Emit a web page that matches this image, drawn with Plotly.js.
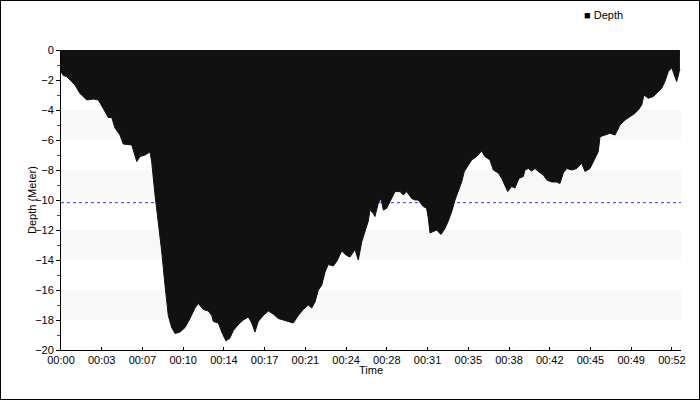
<!DOCTYPE html>
<html>
<head>
<meta charset="utf-8">
<script src="https://cdn.plot.ly/plotly-3.0.1.min.js"></script>
<style>
  html, body { margin: 0; padding: 0; background: #fff; }
  #chart { width: 700px; height: 400px; box-sizing: border-box; border: 1px solid #000; }
</style>
</head>
<body>
<div id="chart"></div>
<script>
// Time since start of dive (minutes)
const timeMin = [
  0, 0.2, 0.49, 1.20, 1.63, 2.21, 2.78, 3.21, 3.63, 4.06, 4.36, 4.64, 5.07, 5.35, 6.08, 6.36, 6.51, 6.79,
  7.22, 7.65, 7.79, 8.08, 8.36, 8.65, 8.94, 9.22, 9.51, 9.80, 10.23, 10.66, 11.09, 11.51, 11.80, 12.23,
  12.66, 12.95, 13.09, 13.52, 13.81, 14.18, 14.52, 14.81, 15.24, 15.67, 16.10, 16.39, 16.67, 16.95, 17.38,
  17.81, 18.24, 18.67, 19.10, 19.53, 19.96, 20.39, 20.82, 21.25, 21.54, 21.83, 22.11, 22.40, 22.69, 22.97,
  23.40, 23.69, 24.12, 24.55, 24.83, 25.26, 25.55, 25.84, 26.12, 26.41, 26.55, 26.84, 26.98, 27.27, 27.50,
  27.70, 27.99, 28.42, 28.70, 29.13, 29.42, 29.71, 30.14, 30.42, 30.70, 31.13, 31.42, 31.56, 31.71, 31.99,
  32.28, 32.65, 33.00, 33.28, 33.57, 33.86, 34.14, 34.43, 34.66, 35.00, 35.29, 35.72, 36.15, 36.43, 36.86,
  37.15, 37.58, 37.87, 38.15, 38.39, 38.73, 39.01, 39.36, 39.73, 39.87, 40.16, 40.45, 40.73, 41.02, 41.45,
  41.74, 42.17, 42.60, 42.88, 43.16, 43.46, 43.89, 44.32, 44.74, 45.03, 45.46, 45.89, 46.17, 46.32, 46.75,
  47.18, 47.61, 48.04, 48.47, 48.89, 49.32, 49.61, 49.90, 50.10, 50.47, 50.90, 51.33, 51.62, 51.90, 52.19,
  52.48, 52.68, 52.91, 53.13, 53.19
];
// Depth (meters, negative = below surface)
const depth = [
  -1.45, -1.7, -1.78, -2.33, -2.9, -3.33, -3.27, -3.33, -3.9, -4.5, -4.5, -5.2, -5.67, -6.27, -6.33, -7.0, -7.44, -7.1,
  -7.0, -6.8, -7.44, -9.67, -11.4, -13.4, -15.7, -17.7, -18.5, -18.9, -18.8, -18.5, -17.9, -17.2, -16.9, -17.3,
  -17.4, -17.7, -18.1, -18.2, -18.8, -19.4, -19.2, -18.7, -18.3, -18.0, -17.8, -18.2, -18.8, -18.1, -17.7,
  -17.4, -17.6, -17.9, -18.0, -18.1, -18.2, -17.7, -17.3, -17.0, -17.2, -16.8, -16.0, -15.7, -14.8, -14.3,
  -14.4, -14.1, -13.4, -13.7, -13.8, -13.3, -14.0, -12.8, -12.1, -11.4, -10.67, -10.9, -11.1, -10.2, -9.9,
  -10.67, -10.55, -9.9, -9.44, -9.44, -9.67, -9.44, -9.9, -10.0, -10.0, -10.44, -10.55, -11.2, -12.2, -12.1,
  -12.0, -12.3, -11.9, -11.4, -10.8, -10.0, -9.44, -8.8, -8.1, -7.67, -7.33, -7.1, -6.73, -7.1, -7.33,
  -8.0, -8.2, -8.55, -9.0, -9.44, -9.1, -9.2, -8.55, -8.44, -8.0, -7.9, -8.07, -7.9, -8.1, -8.33,
  -8.67, -8.8, -8.8, -8.9, -8.2, -7.9, -8.0, -7.9, -7.55, -8.1, -7.9, -7.2, -6.78, -5.78, -5.67,
  -5.55, -5.67, -5.0, -4.67, -4.44, -4.22, -4.0, -3.67, -3.0, -3.22, -3.1, -2.78, -2.55, -2.1, -1.44,
  -1.18, -1.67, -2.1, -1.44, -1.3
];
// X tick positions (minutes) and their labels
const xTickVals = [0, 3.5, 7, 10.5, 14, 17.5, 21, 24.5, 28, 31.5, 35, 38.5, 42, 45.5, 49, 52.5];
const xTickText = ['00:00','00:03','00:07','00:10','00:14','00:17','00:21','00:24','00:28','00:31','00:35','00:38','00:42','00:45','00:49','00:52'];
const xMax = 53.28;
// Reference depth line (dashed)
const refDepth = -10.18;
// Alternating band ranges
const bandStarts = [-4, -8, -12, -16];
const bandHeight = 2;

const FONT = 'Liberation Sans, Arial, sans-serif';

const shapes = bandStarts.map(b => ({
  type: 'rect', xref: 'paper', yref: 'y', x0: 0, x1: 1, y0: b - bandHeight, y1: b,
  fillcolor: '#f8f8f8', line: { width: 0 }, layer: 'below'
}));
shapes.push({
  type: 'line', xref: 'paper', yref: 'y', x0: 0, x1: 1, y0: refDepth, y1: refDepth,
  line: { color: '#3333ff', width: 1, dash: 'dot' }, layer: 'below'
});

const trace = {
  x: timeMin, y: depth, type: 'scatter', mode: 'lines', name: 'Depth',
  fill: 'tozeroy', fillcolor: '#111111',
  line: { color: '#111111', width: 1 },
  showlegend: false, hoverinfo: 'x+y'
};

const txt = { family: FONT, size: 11, color: '#000' };

const layout = {
  width: 698, height: 398,
  margin: { l: 60, r: 18, t: 49, b: 49 },
  paper_bgcolor: '#ffffff', plot_bgcolor: '#ffffff',
  font: txt,
  showlegend: false,
  xaxis: {
    range: [0, xMax], tickmode: 'array', tickvals: xTickVals, ticktext: xTickText,
    showgrid: false, zeroline: false, showline: true, linecolor: '#000', linewidth: 1,
    ticks: 'inside', ticklen: 3, tickcolor: '#000',
    tickfont: txt, automargin: false, fixedrange: true
  },
  yaxis: {
    range: [-20, 0], tickmode: 'linear', tick0: 0, dtick: 2,
    showgrid: false, zeroline: false, showline: true, linecolor: '#000', linewidth: 1,
    ticks: 'outside', ticklen: 4, tickcolor: '#000',
    minor: { dtick: 1, ticks: 'outside', ticklen: 3, tickcolor: '#ff0000', showgrid: false },
    tickfont: txt, automargin: false, fixedrange: true
  },
  shapes: shapes,
  annotations: [
    {
      xref: 'paper', yref: 'paper', x: (582 - 61) / 620, y: 1 + (50 - 15) / 300,
      xanchor: 'left', yanchor: 'middle', showarrow: false,
      text: '■ Depth', font: txt
    },
    {
      xref: 'paper', yref: 'paper', x: 0.5, y: -(370 - 350) / 300,
      xanchor: 'center', yanchor: 'middle', showarrow: false,
      text: 'Time', font: txt
    },
    {
      xref: 'paper', yref: 'paper', x: -(61 - 32) / 620, y: 0.5,
      xanchor: 'center', yanchor: 'middle', showarrow: false, textangle: -90,
      text: 'Depth (Meter)', font: txt
    }
  ]
};

Plotly.newPlot('chart', [trace], layout, { displayModeBar: false, staticPlot: true });
</script>
</body>
</html>
